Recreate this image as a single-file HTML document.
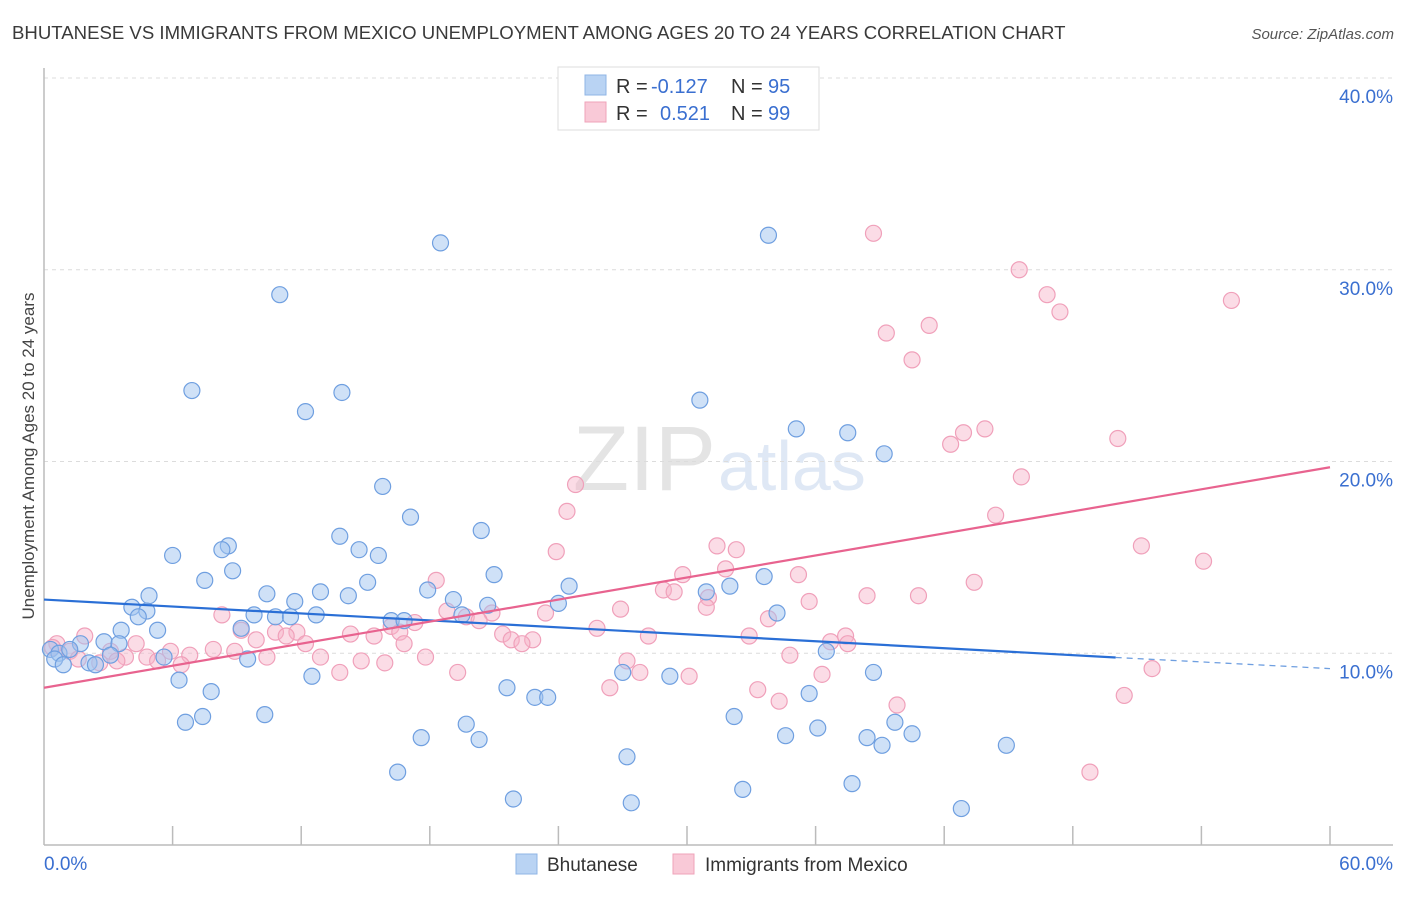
<!DOCTYPE html>
<html><head><meta charset="utf-8">
<style>
body{margin:0;background:#fff;font-family:"Liberation Sans",sans-serif;}
svg text{font-family:"Liberation Sans",sans-serif;}
</style></head>
<body>
<svg id="chart" width="1406" height="892" viewBox="0 0 1406 892" xmlns="http://www.w3.org/2000/svg">
<text x="12" y="39" font-size="18.6" fill="#3a3a3a">BHUTANESE VS IMMIGRANTS FROM MEXICO UNEMPLOYMENT AMONG AGES 20 TO 24 YEARS CORRELATION CHART</text>
<text x="1394" y="39" font-size="15" fill="#555" text-anchor="end" font-style="italic">Source: ZipAtlas.com</text>
<text x="716" y="490" font-size="92" fill="#e4e4e4" text-anchor="end" font-family="Liberation Serif,serif">ZIP</text>
<text x="718" y="490" font-size="70" fill="#dfe8f5">atlas</text>
<g id="grid"></g>
<g id="axes"></g>
<g id="pts"></g>
<g id="trend"></g>
<text transform="translate(34,456) rotate(-90)" font-size="17" fill="#444" text-anchor="middle">Unemployment Among Ages 20 to 24 years</text>
<g>
<rect x="558" y="67" width="261" height="63" fill="#fff" stroke="#ddd"/>
<rect x="585" y="75" width="21" height="20" fill="#b9d3f3" stroke="#8fb4e6"/>
<rect x="585" y="102" width="21" height="20" fill="#f9c9d7" stroke="#efa3ba"/>
<text x="616" y="93" font-size="20" fill="#333">R = <tspan x="651" fill="#3a6fd0">-0.127</tspan><tspan x="731">N = </tspan><tspan x="768" fill="#3a6fd0">95</tspan></text>
<text x="616" y="120" font-size="20" fill="#333">R = <tspan x="660" fill="#3a6fd0">0.521</tspan><tspan x="731">N = </tspan><tspan x="768" fill="#3a6fd0">99</tspan></text>
</g>
<g>
<rect x="516" y="854" width="21" height="20" fill="#b9d3f3" stroke="#8fb4e6"/>
<text x="547" y="871" font-size="19" fill="#333">Bhutanese</text>
<rect x="673" y="854" width="21" height="20" fill="#f9c9d7" stroke="#efa3ba"/>
<text x="705" y="871" font-size="19" fill="#333">Immigrants from Mexico</text>
</g>
</svg>
<script>
const blueX=[18.5,33.8,11.0,6.9,13.9,12.2,30.6,35.1,37.5,39.2,15.8,17.1,20.4,13.8,14.7,15.6,8.6,8.3,6.0,8.8,7.5,21.0,33.6,15.1,24.5,17.9,10.4,12.9,4.9,14.2,19.1,20.7,24.0,11.7,4.1,4.8,4.4,9.8,10.8,11.5,12.7,19.5,34.2,30.9,32.0,16.2,16.8,5.3,9.2,3.6,2.8,3.5,1.7,0.3,0.7,1.2,0.5,2.1,2.4,0.9,5.6,9.5,3.1,36.5,6.3,12.5,27.0,29.2,38.7,7.8,21.6,22.9,23.5,35.7,6.6,7.4,10.3,19.7,32.2,39.7,17.6,20.3,34.6,36.1,38.4,39.1,40.5,44.9,27.2,16.5,21.9,27.4,32.6,37.7,42.8];
const blueY=[31.4,31.8,28.7,23.7,23.6,22.6,23.2,21.7,21.5,20.4,18.7,17.1,16.4,16.1,15.4,15.1,15.6,15.4,15.1,14.3,13.8,14.1,14.0,13.7,13.5,13.3,13.1,13.2,13.0,13.0,12.8,12.5,12.6,12.7,12.4,12.2,11.9,12.0,11.9,11.9,12.0,12.0,12.1,13.2,13.5,11.7,11.7,11.2,11.3,11.2,10.6,10.5,10.5,10.2,10.0,10.2,9.7,9.5,9.4,9.4,9.8,9.7,9.9,10.1,8.6,8.8,9.0,8.8,9.0,8.0,8.2,7.7,7.7,7.9,6.4,6.7,6.8,6.3,6.7,6.4,5.6,5.5,5.7,6.1,5.6,5.2,5.8,5.2,4.6,3.8,2.4,2.2,2.9,3.2,1.9];
const pinkX=[38.7,45.5,46.8,47.4,55.4,41.3,39.3,40.5,43.9,42.9,42.3,50.1,45.6,24.8,24.4,44.4,23.9,31.4,32.3,51.2,54.1,31.8,29.8,35.2,43.4,18.3,28.9,29.4,38.4,40.8,31.0,35.7,26.9,30.9,18.8,20.9,23.4,8.3,19.7,20.3,33.8,17.3,16.2,25.8,9.2,10.8,11.8,14.3,15.4,16.6,11.3,21.4,28.2,32.9,37.4,37.5,22.8,21.8,22.3,36.7,1.9,4.3,9.9,12.2,16.8,0.6,1.2,3.1,5.9,6.8,7.9,8.9,34.8,4.8,3.8,12.9,10.4,17.8,1.6,2.6,3.4,5.3,14.8,15.9,27.2,6.4,13.8,27.8,19.3,30.1,36.3,51.7,26.4,33.3,50.4,34.3,39.8,48.8,0.4];
const pinkY=[31.9,30.0,28.7,27.8,28.4,27.1,26.7,25.3,21.7,21.5,20.9,21.2,19.2,18.8,17.4,17.2,15.3,15.6,15.4,15.6,14.8,14.4,14.1,14.1,13.7,13.8,13.3,13.2,13.0,13.0,12.9,12.7,12.3,12.4,12.2,12.1,12.1,12.0,11.9,11.7,11.8,11.6,11.4,11.3,11.2,11.1,11.1,11.0,10.9,11.1,10.9,11.0,10.9,10.9,10.9,10.5,10.7,10.7,10.5,10.6,10.9,10.5,10.7,10.5,10.5,10.5,10.1,10.1,10.1,9.9,10.2,10.1,9.9,9.8,9.8,9.8,9.8,9.8,9.7,9.5,9.6,9.6,9.6,9.5,9.6,9.4,9.0,9.0,9.0,8.8,8.9,9.2,8.2,8.1,7.8,7.5,7.3,3.8,10.3];
const yTicks=[10,20,30,40];
const yTickLabels=["10.0%","20.0%","30.0%","40.0%"];
const xTicks=[0,6,12,18,24,30,36,42,48,54,60];
const blueTrendX=[0,50,60], blueTrendY=[12.8,9.78,9.2];
const pinkTrendX=[0,60], pinkTrendY=[8.2,19.7];

const NS="http://www.w3.org/2000/svg";
const X0=44,X1=1330,Y0=845,PER10=191.75;
const sx=v=>X0+(v/60)*(X1-X0);
const sy=v=>Y0-v/10*PER10;
function mk(tag,attrs,parent){const e=document.createElementNS(NS,tag);for(const k in attrs)e.setAttribute(k,attrs[k]);parent.appendChild(e);return e;}
const grid=document.getElementById('grid'),axes=document.getElementById('axes'),pts=document.getElementById('pts'),tr=document.getElementById('trend');
yTicks.forEach((t,i)=>{
  const l=mk('line',{x1:X0,x2:1393,y1:sy(t),y2:sy(t),stroke:'#dcdcdc','stroke-dasharray':'4,4'},grid);
  
  
  const tx=mk('text',{x:1393,y:sy(t)+25,'font-size':19,fill:'#3a6fd0','text-anchor':'end'},grid);
  
  
  tx.textContent=yTickLabels[i];
});
let a=mk('line',{x1:X0,x2:X0,y1:68,y2:Y0,stroke:'#bbb','stroke-width':1.5},axes);


a=mk('line',{x1:X0,x2:1393,y1:Y0,y2:Y0,stroke:'#bbb','stroke-width':1.5},axes);


xTicks.forEach(t=>{if(t===0)return;
  const l=mk('line',{x1:sx(t),x2:sx(t),y1:826,y2:Y0,stroke:'#bbb','stroke-width':1.5},axes);
  
  
});
let tl=mk('text',{x:44,y:870,'font-size':19,fill:'#3a6fd0'},axes);


tl.textContent='0.0%';
tl=mk('text',{x:1393,y:870,'font-size':19,fill:'#3a6fd0','text-anchor':'end'},axes);


tl.textContent='60.0%';
pinkX.forEach((x,i)=>{
  const c=mk('circle',{cx:sx(x),cy:sy(pinkY[i]),r:8,fill:'rgba(246,178,199,0.45)',stroke:'#f0a0ba','stroke-width':1.2},pts);
  
  
});
blueX.forEach((x,i)=>{
  const c=mk('circle',{cx:sx(x),cy:sy(blueY[i]),r:8,fill:'rgba(160,196,240,0.5)',stroke:'#6f9fe0','stroke-width':1.2},pts);
  
  
});
let l=mk('line',{x1:sx(blueTrendX[0]),y1:sy(blueTrendY[0]),x2:sx(blueTrendX[1]),y2:sy(blueTrendY[1]),stroke:'#2a6fd6','stroke-width':2.2},tr);


l=mk('line',{x1:sx(blueTrendX[1]),y1:sy(blueTrendY[1]),x2:sx(blueTrendX[2]),y2:sy(blueTrendY[2]),stroke:'#6f9fe0','stroke-width':1.3,'stroke-dasharray':'6,5'},tr);


l=mk('line',{x1:sx(pinkTrendX[0]),y1:sy(pinkTrendY[0]),x2:sx(pinkTrendX[1]),y2:sy(pinkTrendY[1]),stroke:'#e8638f','stroke-width':2.2},tr);


</script>
</body></html>
